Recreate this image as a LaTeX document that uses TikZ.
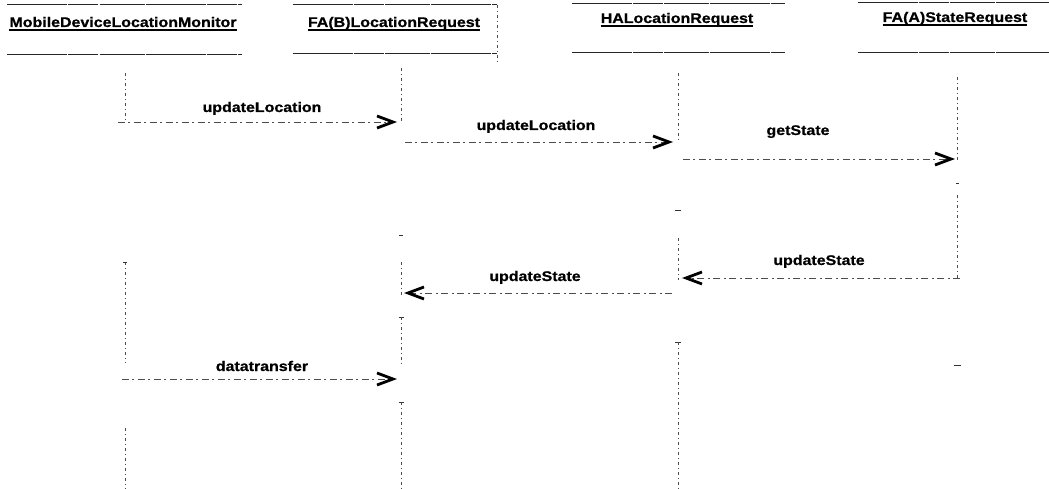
\documentclass[tikz,border=0pt]{standalone}
\usepackage{fontspec}
\usetikzlibrary{arrows.meta}
\newfontfamily\diagfont[FakeStretch=1.14, BoldFeatures={FakeBold=0.8}]{Liberation Sans}
\begin{document}
\begin{tikzpicture}[x=1pt,y=-1pt,
  hdr/.style={font=\diagfont\bfseries\fontsize{14}{16}\selectfont, inner sep=0pt, anchor=base},
  lbl/.style={font=\diagfont\bfseries\fontsize{14}{16}\selectfont, inner sep=0pt, anchor=base},
  box/.style={draw=none, inner sep=0pt},
  rule/.style={line width=0.9pt, black!85, dash pattern=on 60pt off 1pt on 30pt off 1.5pt on 45pt off 1pt},
  uline/.style={line width=2pt, black},
  lifeline/.style={line width=0.6pt, black!70, dash pattern=on 3pt off 3pt on 1pt off 3pt},
  tick/.style={line width=0.8pt, black!80},
  msg/.style={line width=0.6pt, black!70, dash pattern=on 7pt off 3pt on 2pt off 4pt},
  tip/.style={-{Straight Barb[length=16pt,width=12pt,line width=2.8pt,color=black]}}]
\useasboundingbox (0,0) rectangle (1049,489);

% object boxes of the four participants
\node[box, minimum width=234pt, minimum height=49pt] (b1) at (124.5,29.5) {};
\node[box, minimum width=204pt, minimum height=48pt] (b2) at (395,29) {};
\node[box, minimum width=213pt, minimum height=48pt] (b3) at (678.5,28) {};
\node[box, minimum width=191pt, minimum height=49pt] (b4) at (953.5,27.5) {};
\foreach \b in {b1,b2,b3,b4} {
  \draw[rule] (\b.north west) -- (\b.north east);
  \draw[rule] (\b.south west) -- (\b.south east);
}
\draw[lifeline] (b2.north east) -- ([yshift=-10pt]b2.south east);

% participant names
\node[hdr] (h1) at (123,27) {MobileDeviceLocationMonitor};
\node[hdr] (h2) at (394,27) {FA(B)LocationRequest};
\node[hdr] (h3) at (677,23) {HALocationRequest};
\node[hdr] (h4) at (955,22) {FA(A)StateRequest};
\foreach \h in {h1,h2,h3,h4}
  \draw[uline] ([yshift=-2.8pt]\h.base west) -- ([yshift=-2.8pt]\h.base east);

% lifeline columns
\coordinate (L1) at (125,0);
\coordinate (L2) at (401,0);
\coordinate (L3) at (678,0);
\coordinate (L4) at (957,0);

% lifeline fragments
\draw[lifeline] (L1 |- 0,73) -- (L1 |- 0,120);
\draw[lifeline] (L1 |- 0,262) -- (L1 |- 0,363);
\draw[tick] ([xshift=-2pt]L1 |- 0,262) -- ([xshift=2pt]L1 |- 0,262);
\draw[lifeline] (L1 |- 0,428) -- (L1 |- 0,489);

\draw[lifeline] (L2 |- 0,68) -- (L2 |- 0,122);
\draw[tick] ([xshift=-2pt]L2 |- 0,235) -- ([xshift=2pt]L2 |- 0,235);
\draw[lifeline] (L2 |- 0,262) -- (L2 |- 0,296);
\draw[tick] ([xshift=-2.5pt]L2 |- 0,317) -- ([xshift=2.5pt]L2 |- 0,317);
\draw[lifeline] (L2 |- 0,317) -- (L2 |- 0,367);
\draw[tick] ([xshift=-2.5pt]L2 |- 0,402) -- ([xshift=2.5pt]L2 |- 0,402);
\draw[lifeline] (L2 |- 0,402) -- (L2 |- 0,489);

\draw[lifeline] (L3 |- 0,73) -- (L3 |- 0,142);
\draw[tick] ([xshift=-3pt]L3 |- 0,210) -- ([xshift=3pt]L3 |- 0,210);
\draw[lifeline] (L3 |- 0,238) -- (L3 |- 0,280);
\draw[tick] ([xshift=-3pt]L3 |- 0,342) -- ([xshift=3pt]L3 |- 0,342);
\draw[lifeline] (L3 |- 0,342) -- (L3 |- 0,489);

\draw[lifeline] (L4 |- 0,77) -- (L4 |- 0,160);
\draw[tick] ([xshift=-1pt]L4 |- 0,183) -- ([xshift=2pt]L4 |- 0,183);
\draw[lifeline] (L4 |- 0,195) -- (L4 |- 0,278);
\draw[tick] ([xshift=-3pt]L4 |- 0,365) -- ([xshift=4pt]L4 |- 0,365);

% message end points
\coordinate (m1a) at (118,122);  \coordinate (m1b) at (397,122);
\coordinate (m2a) at (405,142);  \coordinate (m2b) at (673,142);
\coordinate (m3a) at (683,159);  \coordinate (m3b) at (955,159);
\coordinate (m4a) at (960,278);  \coordinate (m4b) at (682,278);
\coordinate (m5a) at (672,293);  \coordinate (m5b) at (404,293);
\coordinate (m6a) at (122,379);  \coordinate (m6b) at (397,379);

% messages
\draw[msg, tip] (m1a) -- (m1b);
\draw[msg, tip] (m2a) -- (m2b);
\draw[msg, tip] (m3a) -- (m3b);
\draw[msg, tip] (m4a) -- (m4b);
\draw[msg, tip] (m5a) -- (m5b);
\draw[msg, tip] (m6a) -- (m6b);

% message names
\node[lbl] (t1) at (262,112) {updateLocation};
\node[lbl] (t2) at (536,130) {updateLocation};
\node[lbl] (t3) at (798,135) {getState};
\node[lbl] (t4) at (819,265) {updateState};
\node[lbl] (t5) at (535,281) {updateState};
\node[lbl] (t6) at (262,371) {datatransfer};
\end{tikzpicture}
\end{document}
